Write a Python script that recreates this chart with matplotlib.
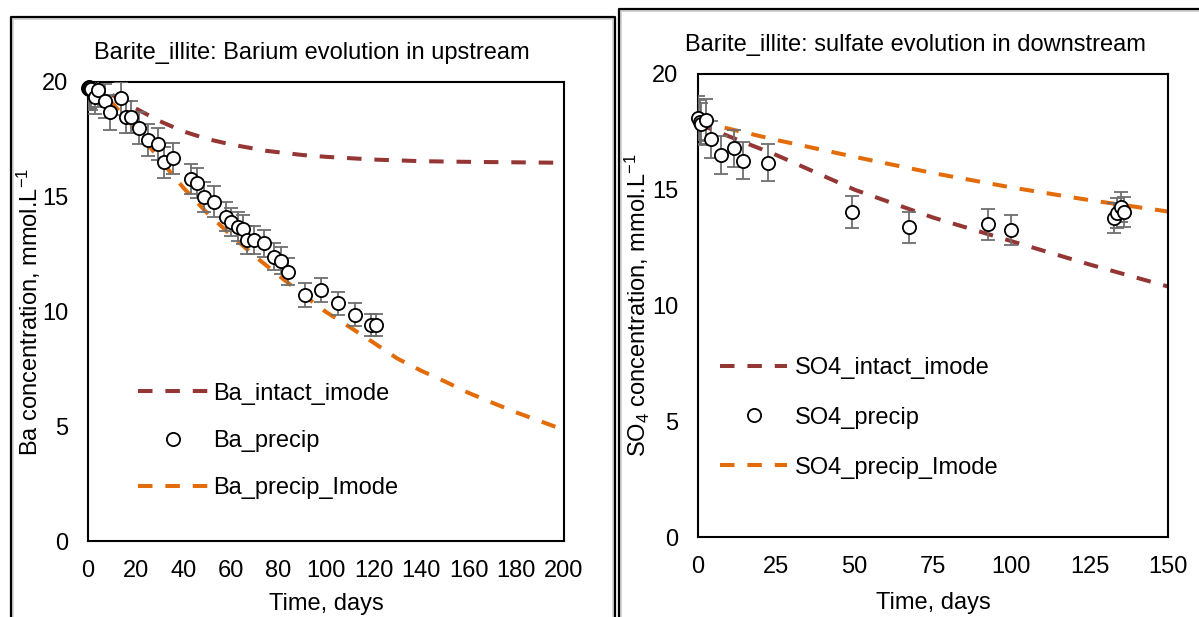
import matplotlib
matplotlib.use("Agg")
import matplotlib.pyplot as plt
from matplotlib.lines import Line2D

plt.rcParams['font.family'] = ['Liberation Sans', 'DejaVu Sans']
plt.rcParams['mathtext.fontset'] = 'custom'
plt.rcParams['mathtext.rm'] = 'Liberation Sans'
plt.rcParams['mathtext.it'] = 'Liberation Sans:italic'
plt.rcParams['mathtext.bf'] = 'Liberation Sans:bold'

# ---------------- data: left panel (Ba, upstream) ----------------
ba_days = [0, 0.3, 0.6, 1.0, 1.4, 2.9, 4.3, 7.1, 9.3, 14, 16, 18, 21.3, 25, 29.3,
           32, 35.6, 43.2, 46, 48.8, 53, 58, 60, 62.9, 65, 67, 69.9, 74.1, 78,
           81.1, 83.9, 91, 98, 105, 112, 119, 121.2]
ba_precip = [19.75, 19.8, 19.7, 19.75, 19.7, 19.36, 19.65, 19.17, 18.68, 19.29,
             18.49, 18.49, 18.0, 17.47, 17.3, 16.5, 16.67, 15.76, 15.59, 14.98,
             14.79, 14.13, 13.91, 13.7, 13.58, 13.12, 13.12, 12.97, 12.39, 12.21,
             11.73, 10.72, 10.94, 10.36, 9.85, 9.41, 9.41]
ba_err = [0.9, 0.9, 0.9, 0.9, 0.9, 0.75, 0.75, 0.75, 0.75, 0.72, 0.7, 0.7, 0.7,
          0.68, 0.68, 0.68, 0.68, 0.66, 0.66, 0.66, 0.66, 0.62, 0.62, 0.62, 0.62,
          0.6, 0.6, 0.6, 0.58, 0.58, 0.58, 0.52, 0.52, 0.5, 0.5, 0.48, 0.48]

ba_intact_days = [0, 10, 20, 30, 40, 50, 60, 75, 90, 100, 120, 140, 160, 180, 200]
ba_intact = [20.0, 19.45, 18.85, 18.3, 17.85, 17.52, 17.28, 17.0, 16.82, 16.74,
             16.62, 16.55, 16.52, 16.5, 16.48]

ba_imode_days = [0, 10, 20, 30, 40, 50, 60, 70, 80, 90, 100, 110, 120, 130, 140,
                 150, 160, 170, 180, 190, 200]
ba_imode = [20.0, 19.1, 17.95, 16.65, 15.4, 14.3, 13.33, 12.42, 11.58, 10.76,
            9.98, 9.32, 8.64, 7.95, 7.42, 6.95, 6.45, 6.02, 5.6, 5.22, 4.84]

# ---------------- data: right panel (SO4, downstream) ----------------
so4_days = [0, 0.5, 1, 2.6, 4.3, 7.2, 11.4, 14.4, 22.3, 49.2, 67.2, 92.5, 100,
            132.8, 133.6, 134.9, 136]
so4_precip = [18.09, 17.94, 17.84, 18.01, 17.19, 16.5, 16.79, 16.26, 16.17,
              14.03, 13.38, 13.51, 13.26, 13.77, 13.98, 14.27, 14.05]
so4_err = [0.95, 0.95, 0.9, 0.9, 0.8, 0.82, 0.8, 0.8, 0.8, 0.7, 0.68, 0.68, 0.66,
           0.65, 0.65, 0.65, 0.65]

so4_intact_days = [0, 10, 25, 50, 75, 100, 125, 150]
so4_intact = [17.85, 17.3, 16.5, 15.0, 13.8, 12.78, 11.77, 10.82]

so4_imode_days = [0, 25, 50, 75, 100, 125, 150]
so4_imode = [17.95, 17.15, 16.42, 15.72, 15.1, 14.55, 14.06]

left_xticks = list(range(0, 201, 20))
right_xticks = list(range(0, 151, 25))
yticks = [0, 5, 10, 15, 20]

BROWN = '#943634'
ORANGE = '#E36C09'
GRAY = '#6e6e6e'
FS = 17

W, H = 1199, 617
fig = plt.figure(figsize=(W / 100, H / 100), dpi=100)


def fx(px):
    return px / W


def fy(py):
    return 1 - py / H


# outer chart frames
def frame(x0, x1, ytop, ybot):
    fig.add_artist(Line2D([fx(x0 + 2.2), fx(x0 + 2.2), fx(x1 - 2.2), fx(x1 - 2.2)],
                          [fy(ybot), fy(ytop + 2.2), fy(ytop + 2.2), fy(ybot)],
                          transform=fig.transFigure, color='#d4d4d4', lw=1.4))
    fig.add_artist(Line2D([fx(x0), fx(x0), fx(x1), fx(x1)],
                          [fy(ybot), fy(ytop), fy(ytop), fy(ybot)],
                          transform=fig.transFigure, color='black', lw=1.6))


frame(11, 615, 17, 640)
frame(619, 1260, 9, 640)

axL = fig.add_axes([fx(88), fy(541), fx(564) - fx(88), fy(82) - fy(541)])
axR = fig.add_axes([fx(698), fy(537), fx(1168) - fx(698), fy(74) - fy(537)])


def draw(ax, xd, yd, ed, d1, v1, d2, v2, labels, xlim, xticks):
    l1, = ax.plot(d1, v1, color=BROWN, lw=2.9, dashes=(3.6, 3.2),
                  dash_capstyle='butt', zorder=2, label=labels[0])
    l3, = ax.plot(d2, v2, color=ORANGE, lw=2.9, dashes=(3.6, 3.2),
                  dash_capstyle='butt', zorder=2, label=labels[2])
    ax.errorbar(xd, yd, yerr=ed, fmt='none', ecolor=GRAY, elinewidth=1.3,
                capsize=5, capthick=1.3, zorder=3)
    l2, = ax.plot(xd, yd, 'o', ms=9.5, mfc='white', mec='black', mew=1.3,
                  zorder=4, clip_on=False, label=labels[1])
    ax.set_xlim(*xlim)
    ax.set_ylim(0, 20)
    ax.set_xticks(xticks)
    ax.set_yticks(yticks)
    ax.tick_params(length=0, labelsize=FS, pad=14)
    for s in ax.spines.values():
        s.set_linewidth(1.5)
        s.set_color('black')
    return [l1, l2, l3]


hL = draw(axL, ba_days, ba_precip, ba_err, ba_intact_days, ba_intact,
          ba_imode_days, ba_imode,
          ['Ba_intact_imode', 'Ba_precip', 'Ba_precip_Imode'], (0, 200), left_xticks)
hR = draw(axR, so4_days, so4_precip, so4_err, so4_intact_days, so4_intact,
          so4_imode_days, so4_imode,
          ['SO4_intact_imode', 'SO4_precip', 'SO4_precip_Imode'], (0, 150), right_xticks)

axL.legend(handles=hL, loc='upper left', bbox_to_anchor=(0.105, 0.345),
           frameon=False, fontsize=FS, handlelength=3.0, handletextpad=0.2,
           labelspacing=1.07, borderpad=0, borderaxespad=0)
axR.legend(handles=hR, loc='upper left', bbox_to_anchor=(0.047, 0.389),
           frameon=False, fontsize=FS, handlelength=2.85, handletextpad=0.3,
           labelspacing=1.18, borderpad=0, borderaxespad=0)

axL.set_xlabel('Time, days', fontsize=FS, va='center')
axL.xaxis.set_label_coords(0.5, -0.137)
axL.set_ylabel(r'Ba concentration, mmol.L$^{\mathregular{-1}}$', fontsize=FS, va='center')
axL.yaxis.set_label_coords(-0.125, 0.5)

axR.set_xlabel('Time, days', fontsize=FS, va='center')
axR.xaxis.set_label_coords(0.5, -0.1425)
axR.set_ylabel(r'SO$_{\mathregular{4}}$ concentration, mmol.L$^{\mathregular{-1}}$',
               fontsize=FS, va='center')
axR.yaxis.set_label_coords(-0.128, 0.5)

fig.text(fx(312), fy(53), 'Barite_illite: Barium evolution in upstream',
         ha='center', va='center', fontsize=FS)
fig.text(fx(915), fy(45), 'Barite_illite: sulfate evolution in downstream',
         ha='center', va='center', fontsize=FS)

fig.savefig('out.png', dpi=100)
